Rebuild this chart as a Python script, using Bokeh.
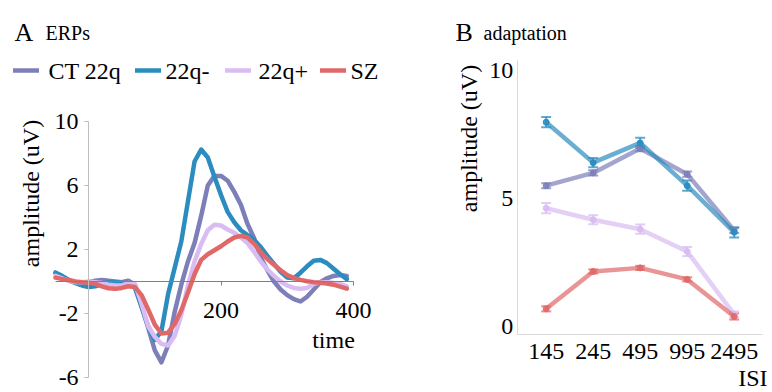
from math import pi
from bokeh.plotting import figure
from bokeh.layouts import row
from bokeh.models import (ColumnDataSource, FixedTicker, Label, Legend, LegendItem,
                          Whisker, TeeHead, LinearAxis, Range1d)
from bokeh.embed import file_html
from bokeh.resources import INLINE

# ---------------- Panel A: ERPs ----------------
time_ms = [-50, -40, -30, -20, -10, 0, 10, 20, 30, 40, 50, 60, 70, 80, 90, 100, 110, 120,
           130, 140, 150, 160, 170, 180, 190, 200, 210, 220, 230, 240, 250, 260, 270, 280,
           290, 300, 310, 320, 330, 340, 350, 360, 370, 380, 390]

erp_ct22q = [0.55, 0.3, 0.05, -0.05, -0.1, -0.05, 0.05, 0.1, 0.05, 0.0, -0.05, 0.05, -0.2,
             -1.55, -2.9, -4.3, -5.05, -4.0, -1.9, -0.2, 1.25, 2.4, 4.1, 6.0, 6.6, 6.6, 6.3,
             5.6, 4.8, 3.6, 2.7, 1.5, 0.7, 0.0, -0.5, -0.85, -1.1, -1.25, -0.95, -0.5, -0.05,
             0.2, 0.35, 0.4, 0.35]

erp_22q_minus = [0.55, 0.35, 0.1, -0.1, -0.25, -0.35, -0.3, -0.15, -0.05, -0.05, -0.1, -0.15,
                 -0.4, -1.6, -2.8, -3.65, -3.1, -0.8, 0.85, 2.5, 5.0, 7.5, 8.25, 7.75, 6.55,
                 5.4, 4.35, 3.7, 3.2, 2.9, 2.6, 2.15, 1.6, 1.1, 0.6, 0.25, 0.2, 0.55, 0.95,
                 1.3, 1.35, 1.15, 0.8, 0.45, 0.15]

erp_22q_plus = [0.35, 0.2, 0.05, -0.05, -0.05, 0.0, -0.05, -0.1, -0.2, -0.25, -0.25, -0.1,
                -0.15, -1.4, -2.8, -3.45, -3.9, -4.0, -3.4, -2.1, -0.25, 1.25, 2.35, 3.2,
                3.55, 3.5, 3.25, 3.05, 2.75, 2.4, 1.85, 1.25, 0.75, 0.35, 0.0, -0.25, -0.4,
                -0.45, -0.4, -0.15, -0.05, -0.05, -0.1, -0.15, -0.3]

erp_sz = [0.24, 0.15, 0.1, 0.0, -0.05, -0.08, -0.15, -0.3, -0.42, -0.46, -0.4, -0.3, -0.35,
          -0.85, -1.75, -2.7, -3.25, -3.2, -2.65, -1.8, -0.7, 0.45, 1.35, 1.7, 1.95, 2.2,
          2.5, 2.75, 2.85, 2.75, 2.35, 1.85, 1.4, 1.05, 0.7, 0.4, 0.22, 0.1, 0.02, -0.04,
          -0.08, -0.12, -0.2, -0.32, -0.45]

erp_y_ticks = [-6, -2, 2, 6, 10]
erp_x_ticks = [200, 400]

# ---------------- Panel B: adaptation ----------------
isi_labels = ["145", "245", "495", "995", "2495"]
adapt_ct22q = [5.5, 6.0, 6.95, 5.95, 3.75]
adapt_22q_minus = [7.98, 6.4, 7.17, 5.5, 3.68]
adapt_22q_plus = [4.62, 4.17, 3.8, 2.93, 0.47]
adapt_sz = [0.69, 2.15, 2.29, 1.84, 0.39]
err_ct22q = [0.1, 0.1, 0.1, 0.1, 0.1]
err_22q_minus = [0.2, 0.18, 0.2, 0.2, 0.2]
err_22q_plus = [0.2, 0.18, 0.18, 0.18, 0.12]
err_sz = [0.1, 0.08, 0.08, 0.08, 0.12]
adapt_y_ticks = [0, 5, 10]

group_names = ["CT 22q", "22q-", "22q+", "SZ"]
group_colors = ["#7d7fb9", "#2b8cbf", "#d8bcf2", "#e06868"]

FONT = "Liberation Serif"
W_A, W_B, H = 420, 352, 392


def lab(p, x, y, text, size, align="left", baseline="alphabetic", angle=0,
        units="screen", dx=0, dy=0):
    p.add_layout(Label(x=x, y=y, x_units=units, y_units=units, text=text,
                       x_offset=dx, y_offset=dy,
                       text_font=FONT, text_font_size=size, text_color="black",
                       text_align=align, text_baseline=baseline, angle=angle))


# ================= Figure A =================
pa = figure(width=W_A, height=H, x_range=Range1d(-133.1, 501.3), y_range=Range1d(-6.9375, 17.5625),
            output_backend="svg", toolbar_location=None,
            x_axis_location=None, y_axis_location=None,
            min_border_left=0, min_border_right=0, min_border_top=0, min_border_bottom=0,
            outline_line_color=None, background_fill_color="white")
pa.grid.visible = False

yax = LinearAxis(fixed_location=0, bounds=(-6, 10), ticker=FixedTicker(ticks=erp_y_ticks),
                 axis_line_color="#bfbfbf", major_tick_line_color="#bfbfbf",
                 major_tick_out=4, major_tick_in=0, minor_tick_line_color=None,
                 major_label_text_color=None)
pa.add_layout(yax, "left")
xax = LinearAxis(fixed_location=0, bounds=(-50, 400), ticker=FixedTicker(ticks=erp_x_ticks),
                 axis_line_color="#808080", major_tick_line_color="#808080",
                 major_tick_out=4, major_tick_in=0, minor_tick_line_color=None,
                 major_label_text_color=None)
pa.add_layout(xax, "below")
# tick labels (serif) placed at the tick values through the plot's scales
for t in erp_y_ticks:
    lab(pa, 0, t, str(t), "24px", align="right", baseline="middle", units="data", dx=-10)
for t in erp_x_ticks:
    lab(pa, t, 0, str(t), "24px", align="center", baseline="middle", units="data", dy=-29)

erp_series = [erp_ct22q, erp_22q_minus, erp_22q_plus, erp_sz]
rends = []
for vals, c in zip(erp_series, group_colors):
    r = pa.line(time_ms, vals, line_width=4.5, line_color=c, line_join="round", line_cap="round")
    rends.append(r)

# legend: keys from Bokeh legends, texts as serif labels
key_x = [13, 135, 225, 320]
text_x = [48, 165, 258, 350]
for name, r, kx, tx in zip(group_names, rends, key_x, text_x):
    lg = Legend(items=[LegendItem(label=" ", renderers=[r])], location=(kx, 317),
                glyph_width=26, glyph_height=10, label_standoff=0, label_width=0,
                label_height=10, label_text_font_size="1px",
                padding=0, margin=0, border_line_alpha=0, background_fill_alpha=0)
    pa.add_layout(lg, "center")
    lab(pa, tx, 322, name, "24px", baseline="middle")

lab(pa, 14, 360, "A", "26px")
lab(pa, 45, 360, "ERPs", "20px")
lab(pa, 30, 199, "amplitude (uV)", "24px", align="center", baseline="middle", angle=pi / 2)
lab(pa, 333, 53, "time", "24px", align="center", baseline="middle")

# ================= Figure B =================
isi_pos = list(range(len(isi_labels)))
pb = figure(width=W_B, height=H, x_range=Range1d(-2.674, 4.815), y_range=Range1d(-2.578, 12.734),
            output_backend="svg", toolbar_location=None,
            x_axis_location=None, y_axis_location=None,
            min_border_left=0, min_border_right=0, min_border_top=0, min_border_bottom=0,
            outline_line_color=None, background_fill_color="white")
pb.grid.visible = False

bx = LinearAxis(fixed_location=-0.3125, bounds=(-0.617, 4.602), ticker=FixedTicker(ticks=isi_pos),
                axis_line_color="#d9d9d9", major_tick_line_color=None, minor_tick_line_color=None,
                major_label_text_color=None)
pb.add_layout(bx, "below")
by = LinearAxis(fixed_location=-0.617, bounds=(-0.3125, 10.39),
                ticker=FixedTicker(ticks=adapt_y_ticks),
                axis_line_color="#d9d9d9", major_tick_line_color=None, minor_tick_line_color=None,
                major_label_text_color=None)
pb.add_layout(by, "left")
for t in adapt_y_ticks:
    lab(pb, -0.617, t, str(t), "24px", align="right", baseline="middle", units="data", dx=-4)
for i, s in zip(isi_pos, isi_labels):
    lab(pb, i, -0.3125, s, "24px", align="center", baseline="middle", units="data", dy=-17)

adapt_series = [adapt_ct22q, adapt_22q_minus, adapt_22q_plus, adapt_sz]
adapt_errs = [err_ct22q, err_22q_minus, err_22q_plus, err_sz]
for vals, errs, c in zip(adapt_series, adapt_errs, group_colors):
    src = ColumnDataSource(dict(x=isi_pos, y=vals,
                                upper=[v + e for v, e in zip(vals, errs)],
                                lower=[v - e for v, e in zip(vals, errs)]))
    pb.line("x", "y", source=src, line_width=4.5, line_color=c, line_alpha=0.7)
    pb.scatter("x", "y", source=src, size=6, color=c, alpha=0.9)
    w = Whisker(source=src, base="x", upper="upper", lower="lower",
                line_color=c, line_alpha=0.75, line_width=2,
                upper_head=TeeHead(size=10, line_color=c, line_alpha=0.75, line_width=2),
                lower_head=TeeHead(size=10, line_color=c, line_alpha=0.75, line_width=2))
    pb.add_layout(w)

lab(pb, 35, 360, "B", "26px")
lab(pb, 63, 360, "adaptation", "20px")
lab(pb, 48, 254, "amplitude (uV)", "24px", align="center", baseline="middle", angle=pi / 2)
lab(pb, 347, 15, "ISI", "24px", align="right", baseline="middle")

layout = row(pa, pb)
open("out.html", "w").write(file_html(layout, INLINE))
